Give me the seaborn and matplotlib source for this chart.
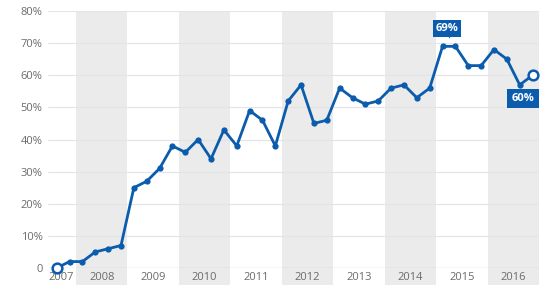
import numpy as np
import pandas as pd
import matplotlib
matplotlib.use("Agg")
import matplotlib.pyplot as plt
import matplotlib.transforms as mtransforms
import seaborn as sns

# ---- data ----
years = [2007, 2007] + [y for y in range(2008, 2017) for _ in range(4)]
quarters = [3, 4] + [q for _ in range(2008, 2017) for q in (1, 2, 3, 4)]
values = [0, 2,
          2, 5, 6, 7,
          25, 27, 31, 38,
          36, 40, 34, 43,
          38, 49, 46, 38,
          52, 57, 45, 46,
          56, 53, 51, 52,
          56, 57, 53, 56,
          69, 69, 63, 63,
          68, 65, 57, 60]
year_labels = [str(y) for y in range(2007, 2017)]
y_ticks = [0, 10, 20, 30, 40, 50, 60, 70, 80]
y_tick_labels = ["0"] + [f"{v}%" for v in y_ticks[1:]]
shaded_years = [2008, 2010, 2012, 2014, 2016]

df = pd.DataFrame({"year": years, "quarter": quarters, "value": values})
df["t"] = df["year"] + (df["quarter"] - 0.5) / 4

BLUE = "#0b5cad"
GRAY_TXT = "#6b6b6b"

sns.set_style("white")
plt.rcParams["font.family"] = ["Open Sans", "DejaVu Sans"]

fig = plt.figure(figsize=(5.5, 2.93), dpi=100)
ax = fig.add_axes([48 / 550, 25 / 293, (539 - 48) / 550, 257 / 293])

xlo, xhi = 2007.456, 2017.0
ax.set_xlim(xlo, xhi)
ax.set_ylim(0, 80)

# shaded year bands extending below the axis through the label area
for yr in shaded_years:
    ax.axvspan(yr, yr + 1, ymin=-0.066, ymax=1.0, color="#ebebeb", lw=0,
               zorder=0, clip_on=False)

# grid
for v in y_ticks:
    ax.axhline(v, color="#cfcfcf" if v == 0 else "#e4e4e4",
               lw=1.0 if v == 0 else 0.8, zorder=1)

sns.lineplot(data=df, x="t", y="value", ax=ax, color=BLUE, lw=2.0,
             marker="o", markersize=4.5, markeredgewidth=0,
             markerfacecolor=BLUE, zorder=3)

# open end markers
ends = df.iloc[[0, -1]]
ax.plot(ends["t"], ends["value"], ls="none", marker="o", markersize=7,
        markerfacecolor="white", markeredgecolor=BLUE, markeredgewidth=1.8,
        zorder=4, clip_on=False)

for s in ax.spines.values():
    s.set_visible(False)

ax.set_yticks(y_ticks)
ax.set_yticklabels(y_tick_labels)
xt = [xlo] + [y + 0.5 for y in range(2008, 2017)]
ax.set_xticks(xt)
ax.set_xticklabels(year_labels)
ax.get_xticklabels()[0].set_horizontalalignment("left")
ax.tick_params(axis="both", length=0, labelsize=8, labelcolor=GRAY_TXT)
ax.tick_params(axis="y", pad=4)
ax.tick_params(axis="x", pad=3)
ax.set_xlabel("")
ax.set_ylabel("")

# annotation: maximum
imax = int(np.argmax(values))
xmax = (df["t"].iloc[imax] + df["t"].iloc[imax + 1]) / 2
vmax = values[imax]
ax.annotate(f"{vmax}%", xy=(xmax, vmax), xytext=(-1.5, 12.8), textcoords="offset points",
            ha="center", va="center", color="white", fontsize=8, fontweight="bold",
            bbox=dict(boxstyle="square,pad=0.25", fc=BLUE, ec="none"), zorder=6)
tr = mtransforms.offset_copy(ax.transData, fig=fig, x=0, y=7.6, units="points")
ax.plot([xmax], [vmax], marker="v", color=BLUE, markersize=3, markeredgewidth=0,
        transform=tr, clip_on=False, zorder=6)

# annotation: last value
xl, vl = df["t"].iloc[-1], values[-1]
ax.annotate(f"{vl}%", xy=(xl, vl), xytext=(-7, -16.7), textcoords="offset points",
            ha="center", va="center", color="white", fontsize=8, fontweight="bold",
            bbox=dict(boxstyle="square,pad=0.38", fc=BLUE, ec="none"), zorder=6,
            annotation_clip=False)
tr2 = mtransforms.offset_copy(ax.transData, fig=fig, x=0, y=-11.6, units="points")
ax.plot([xl], [vl], marker="^", color=BLUE, markersize=3, markeredgewidth=0,
        transform=tr2, clip_on=False, zorder=6)

fig.savefig("out.png", dpi=100)
